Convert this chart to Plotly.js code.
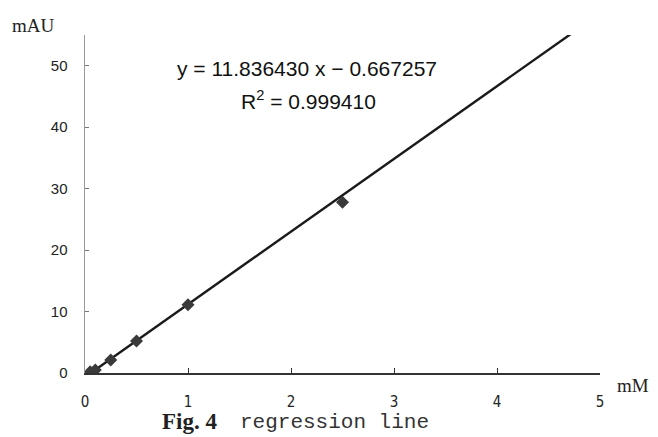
<!DOCTYPE html>
<html>
<head>
<meta charset="utf-8">
<script src="https://cdn.plot.ly/plotly-3.0.1.min.js"></script>
<style>html,body{margin:0;padding:0;background:#fff;}#chart{width:658px;height:437px;}</style>
</head>
<body>
<div id="chart"></div>
<script>
const concentration = [0.05, 0.1, 0.25, 0.5, 1, 2.5];
const absorbance = [0.2, 0.5, 2.1, 5.2, 11.1, 27.8];
const slope = 11.836430;
const intercept = -0.667257;
const fitX = [0, 5];
const fitY = fitX.map(x => slope * x + intercept);
const xTicks = [0, 1, 2, 3, 4, 5];
const yTicks = [0, 10, 20, 30, 40, 50];

const M = {l: 85, r: 58, t: 35, b: 64};
const W = 658, H = 437;
const PW = W - M.l - M.r, PH = H - M.t - M.b;
// pixel -> paper coordinates
function px(xp, yp) { return {x: (xp - M.l) / PW, y: (H - M.b - yp) / PH}; }

const data = [
  {x: fitX, y: fitY, mode: 'lines', line: {color: '#1a1a1a', width: 2.4}, hoverinfo: 'skip'},
  {x: concentration, y: absorbance, mode: 'markers',
   marker: {symbol: 'diamond', size: 10, color: '#3a3a3a'}}
];

const layout = {
  width: W, height: H,
  margin: M,
  showlegend: false,
  paper_bgcolor: '#fff', plot_bgcolor: '#fff',
  xaxis: {range: [0, 5], tickvals: xTicks, ticktext: xTicks.map(String),
    showgrid: false, zeroline: false, showline: true, linecolor: '#333', linewidth: 1.5,
    ticks: 'inside', ticklen: 5, tickcolor: '#333', ticklabelstandoff: 14,
    tickfont: {family: 'Liberation Sans Narrow, DejaVu Sans Condensed, sans-serif', size: 15, color: '#222'}},
  yaxis: {range: [0, 55], tickvals: yTicks,
    showgrid: false, zeroline: false, showline: true, linecolor: '#999', linewidth: 1.5,
    ticks: 'inside', ticklen: 4, tickcolor: '#777', ticklabelstandoff: 13,
    tickfont: {family: 'Liberation Sans, Arial, sans-serif', size: 15, color: '#222'}},
  annotations: []
};

const labels = [
  {p: px(307, 68), text: 'y = 11.836430 x − 0.667257', xa: 'center',
   font: {family: 'Liberation Sans, Arial, sans-serif', size: 21, color: '#111'}},
  {p: px(308, 100), text: 'R<sup>2</sup> = 0.999410', xa: 'center',
   font: {family: 'Liberation Sans, Arial, sans-serif', size: 21, color: '#111'}},
  {p: px(33, 26), text: 'mAU', xa: 'center',
   font: {family: 'Liberation Serif, serif', size: 19, color: '#222'}},
  {p: px(633, 385), text: 'mM', xa: 'center',
   font: {family: 'Liberation Serif, serif', size: 19, color: '#222'}},
  {p: px(160, 421), text: '<b>Fig. 4</b>', xa: 'left',
   font: {family: 'Liberation Serif, serif', size: 23, color: '#222'}},
  {p: px(238, 422), text: 'regression line', xa: 'left',
   font: {family: 'Liberation Mono, monospace', size: 21, color: '#333'}}
];
labels.forEach(l => layout.annotations.push({xref: 'paper', yref: 'paper', x: l.p.x, y: l.p.y,
  xanchor: l.xa, yanchor: 'middle', text: l.text, showarrow: false, font: l.font}));

Plotly.newPlot('chart', data, layout, {displayModeBar: false, staticPlot: true});
</script>
</body>
</html>
